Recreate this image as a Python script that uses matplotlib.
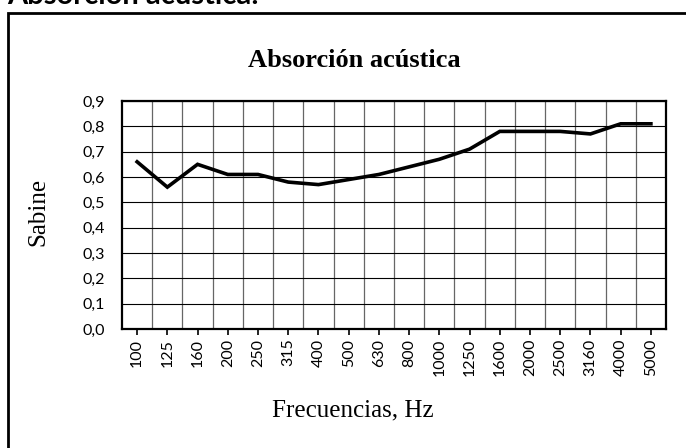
import matplotlib.pyplot as plt
from matplotlib.patches import Rectangle
from matplotlib.ticker import FuncFormatter

frequencies = ["100", "125", "160", "200", "250", "315", "400", "500", "630", "800",
               "1000", "1250", "1600", "2000", "2500", "3160", "4000", "5000"]
absorption = [0.66, 0.56, 0.65, 0.61, 0.61, 0.58, 0.57, 0.59, 0.61, 0.64,
              0.67, 0.71, 0.78, 0.78, 0.78, 0.77, 0.81, 0.81]
y_ticks = [0.0, 0.1, 0.2, 0.3, 0.4, 0.5, 0.6, 0.7, 0.8, 0.9]

sans = ["Lato", "DejaVu Sans"]
serif = ["Liberation Serif", "DejaVu Serif"]
W, H = 686, 448

fig = plt.figure(figsize=(6.86, 4.48), dpi=100)
ax = fig.add_axes([122 / W, 1 - 329 / H, 544 / W, 228 / H])

x = list(range(len(frequencies)))
ax.plot(x, absorption, color="black", lw=2.6, solid_joinstyle="miter")

ax.set_xlim(-0.5, len(frequencies) - 0.5)
ax.set_ylim(0, 0.9)
ax.set_yticks(y_ticks)
ax.yaxis.set_major_formatter(FuncFormatter(lambda v, p: f"{v:.1f}".replace(".", ",")))
ax.set_xticks(x)
ax.set_xticklabels(frequencies, rotation=90, family=sans, fontsize=11.5)
for lab in ax.get_yticklabels():
    lab.set_family(sans)
    lab.set_fontsize(11.5)

# gridlines between categories (vertical) and at every y tick
for b in range(1, len(frequencies)):
    ax.axvline(b - 0.5, color="#666666", lw=0.9, zorder=0)
for v in y_ticks[1:]:
    ax.axhline(v, color="black", lw=0.8, zorder=0)

ax.tick_params(axis="x", length=4, width=1.2, direction="out", pad=3)
ax.tick_params(axis="y", length=0, pad=12)
for s in ax.spines.values():
    s.set_linewidth(1.6)

fig.text(354 / W, 1 - 67 / H, "Absorción acústica", family=serif, fontsize=19,
         fontweight="bold", ha="center", va="baseline")
fig.text(38 / W, 1 - 212 / H, "Sabine", family=serif, fontsize=18,
         rotation=90, ha="center", va="center")
fig.text(353 / W, 1 - 416 / H, "Frecuencias, Hz", family=serif, fontsize=18,
         ha="center", va="baseline")

# outer frame and page heading (cut by the top edge, as in the source)
fig.patches.append(Rectangle((8 / W, -0.1), 1.0, 1 - 13 / H + 0.1,
                             transform=fig.transFigure, fill=False,
                             edgecolor="black", lw=2))
fig.text(7 / W, 1 - 4 / H, "Absorción acústica:", family=sans, fontsize=21,
         fontweight="bold", ha="left", va="baseline")

fig.savefig("out.png", dpi=100)
